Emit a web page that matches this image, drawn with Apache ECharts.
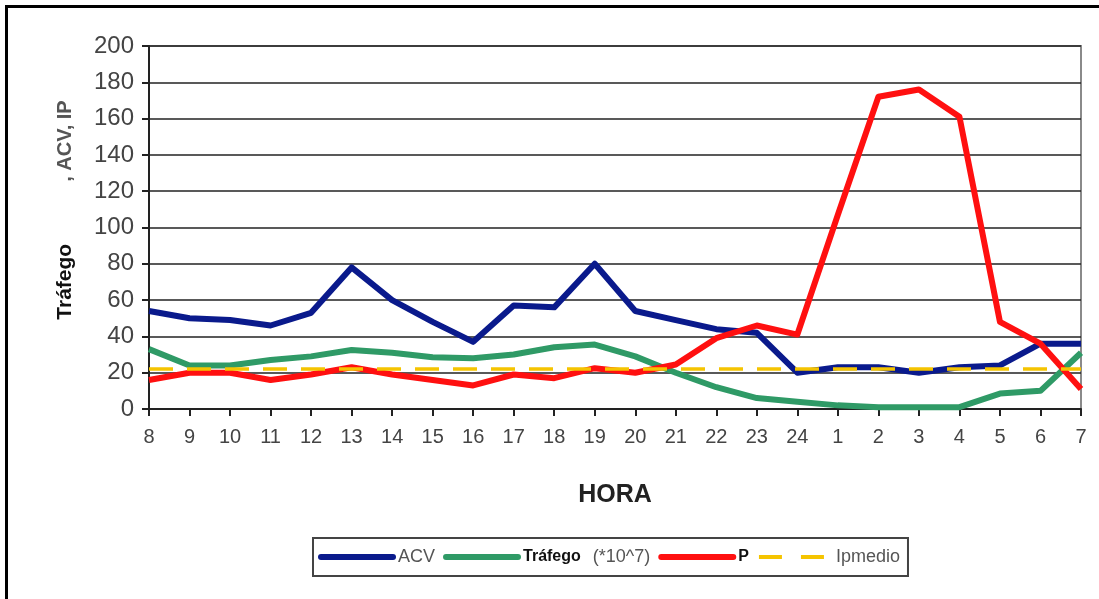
<!DOCTYPE html>
<html>
<head>
<meta charset="utf-8">
<script src="https://cdn.jsdelivr.net/npm/echarts@6/dist/echarts.min.js"></script>
<style>
  html, body { margin: 0; padding: 0; background: #fff; }
  #chart { width: 1099px; height: 599px; }
</style>
</head>
<body>
<div id="chart"></div>
<script>
// Hours of the day, starting at 8 in the morning
var horas = ['8','9','10','11','12','13','14','15','16','17','18','19','20','21','22','23','24','1','2','3','4','5','6','7'];

var acv     = [54, 50, 49, 46, 53, 78, 60, 48, 37, 57, 56, 80, 54, 49, 44, 42, 20, 23, 23, 20, 23, 24, 36, 36];
var trafego = [33, 24, 24, 27, 29, 32.5, 31, 28.5, 28, 30, 34, 35.5, 29, 20, 12, 6, 4, 2, 1, 1, 1, 8.5, 10, 31];
var ip      = [16, 20, 20, 16, 19, 23, 19, 16, 13, 19, 17, 22.5, 20, 24.5, 39, 46, 41, 107, 172, 176, 161, 48, 36, 11];
var ipMedio = [22, 22, 22, 22, 22, 22, 22, 22, 22, 22, 22, 22, 22, 22, 22, 22, 22, 22, 22, 22, 22, 22, 22, 22];

var yTicks = { min: 0, max: 200, interval: 20 };

var FONT = '"Liberation Sans", Arial, sans-serif';

var chart = echarts.init(document.getElementById('chart'));

function lineSeries(name, data, color, width, dashed) {
  return {
    name: name,
    type: 'line',
    data: data,
    symbol: 'none',
    showSymbol: false,
    animation: false,
    lineStyle: {
      color: color,
      width: width,
      type: dashed ? [24, 14] : 'solid',
      cap: 'butt',
      join: 'round'
    },
    itemStyle: { color: color }
  };
}

chart.setOption({
  backgroundColor: '#fff',
  animation: false,
  textStyle: { fontFamily: FONT },
  grid: {
    left: 149, right: 18, top: 46, bottom: 190,
    show: true, borderColor: '#8a8a8a', borderWidth: 2, backgroundColor: 'transparent'
  },
  xAxis: {
    type: 'category',
    data: horas,
    boundaryGap: false,
    axisLine: { lineStyle: { color: '#222', width: 2 } },
    axisTick: { show: true, length: 7, lineStyle: { color: '#222', width: 2 } },
    axisLabel: { color: '#444', fontSize: 20, fontFamily: FONT, margin: 18, interval: 0 },
    splitLine: { show: false },
    name: 'HORA',
    nameLocation: 'middle',
    nameGap: 74,
    nameTextStyle: { color: '#222', fontSize: 25, fontWeight: 'bold', fontFamily: FONT }
  },
  yAxis: {
    type: 'value',
    min: yTicks.min, max: yTicks.max, interval: yTicks.interval,
    axisLine: { show: true, lineStyle: { color: '#222', width: 2 } },
    axisTick: { show: true, inside: false, length: 7, lineStyle: { color: '#222', width: 2 } },
    axisLabel: { color: '#444', fontSize: 24, fontFamily: FONT, margin: 15 },
    splitLine: { show: true, lineStyle: { color: '#222', width: 1.5 } }
  },
  legend: {
    left: 313, top: 538,
    padding: [10, 8, 10, 5],
    itemGap: 8,
    itemWidth: 72, itemHeight: 16,
    borderColor: '#444', borderWidth: 2,
    backgroundColor: '#fff',
    itemStyle: { opacity: 0 },
    lineStyle: { width: 6, cap: 'round' },
    data: [
      { name: 'ACV' },
      { name: 'Tráfego' },
      { name: 'P' },
      { name: 'Ipmedio', lineStyle: { width: 4, type: [23, 19], cap: 'butt' } }
    ],
    formatter: function (name) {
      if (name === 'Tráfego') return '{b|Tráfego}{s| }{g|(*10^7)}';
      if (name === 'P') return '{b|P}';
      return '{g|' + name + '}';
    },
    textStyle: {
      rich: {
        b: { fontSize: 16, fontWeight: 'bold', color: '#111', fontFamily: FONT },
        g: { fontSize: 18, color: '#555', fontFamily: FONT },
        s: { width: 12, fontSize: 16 }
      }
    }
  },
  graphic: [
    // outer frame lines (left and top)
    { type: 'rect', left: 5, top: 5, shape: { width: 3, height: 594 }, style: { fill: '#000' }, silent: true },
    { type: 'rect', left: 5, top: 5, shape: { width: 1094, height: 3 }, style: { fill: '#000' }, silent: true },
    // rotated y axis title
    {
      type: 'text', silent: true,
      x: 65, y: 210, rotation: Math.PI / 2,
      style: {
        text: '{b|Tráfego}{s| }{g|, ACV, IP}',
        align: 'center', verticalAlign: 'middle',
        rich: {
          b: { fontSize: 21, fontWeight: 'bold', fill: '#111', fontFamily: FONT },
          g: { fontSize: 20, fontWeight: 'bold', fill: '#555', fontFamily: FONT },
          s: { width: 62, fontSize: 20 }
        }
      }
    }
  ],
  series: [
    lineSeries('ACV', acv, '#0a1a8c', 6, false),
    lineSeries('Tráfego', trafego, '#2f9a66', 6, false),
    lineSeries('P', ip, '#ff1010', 6, false),
    lineSeries('Ipmedio', ipMedio, '#f5c400', 3.5, true)
  ]
});
</script>
</body>
</html>
